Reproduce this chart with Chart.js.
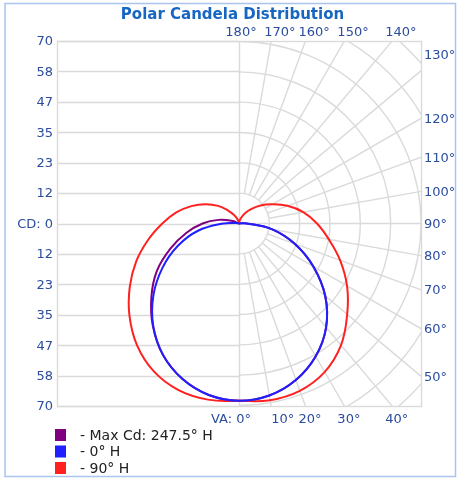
<!DOCTYPE html>
<html>
<head>
<meta charset="utf-8">
<script src="https://cdn.jsdelivr.net/npm/chart.js@4.4.0/dist/chart.umd.min.js"></script>
<style>
  html, body { margin: 0; padding: 0; background: #fff; }
  #wrap { width: 461px; height: 481px; }
</style>
</head>
<body>
<div id="wrap"><canvas id="polar" width="461" height="481"></canvas></div>
<script>
// vertical angle (deg from nadir) of each reading
const verticalAngles = [0, 10, 20, 30, 40, 50, 60, 70, 80, 90, 100, 110, 120, 130, 140, 150, 160, 170, 180];

// candela, left and right half of each plane
const maxCdLeft  = [68, 66.8, 63.5, 58.4, 51.5, 44, 36.5, 28, 20.5, 14, 8, 3, 0, 0, 0, 0, 0, 0, 0];
const maxCdRight = [68, 67, 63.9, 58.9, 52.1, 43.3, 33, 22.8, 13, 3, 0, 0, 0, 0, 0, 0, 0, 0, 0];
const h0Left     = [68, 66.8, 63.5, 58.3, 51.3, 43, 34, 25, 16, 6, 1, 0, 0, 0, 0, 0, 0, 0, 0];
const h0Right    = [68, 67, 63.9, 58.9, 52.1, 43.3, 33, 22.8, 13, 3, 0, 0, 0, 0, 0, 0, 0, 0, 0];
const h90Left    = [68, 68.6, 68, 65.5, 61, 55, 48.5, 42, 35.4, 29.5, 24.5, 19.5, 14.8, 10.5, 6.5, 3.8, 1.8, 0.6, 0];
const h90Right   = [68, 68.8, 68.3, 65.8, 61, 54.3, 48, 41.4, 35.1, 30, 25.1, 19.8, 14.7, 10.8, 7.2, 4.4, 2.2, 0.8, 0];

const seriesLabels = ['- Max Cd: 247.5\u00b0 H', '- 0\u00b0 H', '- 90\u00b0 H'];

// candela axis
const cdTicks = [70, 58.33, 46.67, 35, 23.33, 11.67, 0, -11.67, -23.33, -35, -46.67, -58.33, -70];
const cdTickLabels = ['70', '58', '47', '35', '23', '12', 'CD: 0', '12', '23', '35', '47', '58', '70'];
const ringValues = [11.67, 23.33, 35, 46.67, 58.33, 70, 81.67, 93.33];
const radialAngles = [0, 10, 20, 30, 40, 50, 60, 70, 80, 90, 100, 110, 120, 130, 140, 150, 160, 170, 180];
const labelNudge = {10: 7, 130: -16};

const FONT = "'DejaVu Sans', Verdana, sans-serif";
const TICK_COLOR = '#2b4c9f';
const GRID_COLOR = '#dadada';

function polar(deg, cd, side) {
    const a = deg * Math.PI / 180;
    return {x: side * cd * Math.sin(a), y: -cd * Math.cos(a)};
}

function planePoints(left, right) {
    let pts = [];
    for (let i = verticalAngles.length - 1; i >= 0; i--) {
        pts.push(polar(verticalAngles[i], left[i], -1));
    }
    for (let i = 1; i < verticalAngles.length; i++) {
        pts.push(polar(verticalAngles[i], right[i], 1));
    }
    return pts;
}

function line(ctx, x1, y1, x2, y2) {
    ctx.beginPath();
    ctx.moveTo(x1, y1);
    ctx.lineTo(x2, y2);
    ctx.stroke();
}

const polarGrid = {
    id: 'polarGrid',
    beforeDatasetsDraw(chart) {
        const {ctx, chartArea: a, scales: {x, y}} = chart;
        const cx = x.getPixelForValue(0);
        const cy = y.getPixelForValue(0);
        const unit = x.getPixelForValue(1) - cx;

        ctx.save();
        ctx.strokeStyle = GRID_COLOR;
        ctx.lineWidth = 1.4;
        // candela lines on the left half
        y.ticks.forEach(t => {
            const py = Math.round(y.getPixelForValue(t.value)) + 0.5;
            line(ctx, a.left, py, cx, py);
        });
        line(ctx, Math.round(cx) + 0.5, a.top, Math.round(cx) + 0.5, a.bottom);

        // polar grid on the right half
        ctx.save();
        ctx.beginPath();
        ctx.rect(cx, a.top, a.right - cx, a.bottom - a.top);
        ctx.clip();
        ringValues.forEach(r => {
            ctx.beginPath();
            ctx.arc(cx, cy, r * unit, -Math.PI / 2, Math.PI / 2);
            ctx.stroke();
        });
        radialAngles.forEach(deg => {
            const ang = deg * Math.PI / 180;
            const r0 = (deg % 90 === 0) ? 0 : ringValues[0] * unit;
            const dx = Math.sin(ang), dy = Math.cos(ang);
            line(ctx, cx + r0 * dx, cy + r0 * dy, cx + 400 * dx, cy + 400 * dy);
        });
        ctx.restore();

        ctx.strokeRect(a.left + 0.5, a.top + 0.5, a.width, a.height);
        ctx.restore();
    },
    afterDraw(chart) {
        const {ctx, chartArea: a, scales: {x, y}} = chart;
        const cx = x.getPixelForValue(0);
        const cy = y.getPixelForValue(0);

        ctx.save();
        // outer frame
        ctx.strokeStyle = '#aac4ee';
        ctx.lineWidth = 1.5;
        ctx.strokeRect(5, 3.5, 450.5, 473);

        // title
        ctx.fillStyle = '#1766c2';
        ctx.font = 'bold 15px ' + FONT;
        ctx.textAlign = 'center';
        ctx.textBaseline = 'middle';
        ctx.fillText('Polar Candela Distribution', chart.width / 2 + 2, 15);

        // candela tick labels
        ctx.fillStyle = TICK_COLOR;
        ctx.font = '13px ' + FONT;
        ctx.textAlign = 'right';
        y.ticks.forEach((t, i) => {
            ctx.fillText(cdTickLabels[i], a.left - 4, y.getPixelForValue(t.value) + 1);
        });

        // vertical angle labels where each ray leaves the box
        radialAngles.forEach(deg => {
            const ang = deg * Math.PI / 180;
            const dx = Math.sin(ang), dy = Math.cos(ang);
            const tRight = dx > 1e-6 ? (a.right - cx) / dx : Infinity;
            const tTop = dy < -1e-6 ? (cy - a.top) / -dy : Infinity;
            const tBottom = dy > 1e-6 ? (a.bottom - cy) / dy : Infinity;
            const t = Math.min(tRight, tTop, tBottom);
            const hx = cx + t * dx, hy = cy + t * dy;
            const nudge = labelNudge[deg] || 0;
            const text = deg + '\u00b0';
            if (deg === 0) {
                ctx.textAlign = 'right';
                ctx.fillText('VA: 0\u00b0', cx + 12, a.bottom + 14);
            } else if (deg === 180) {
                ctx.textAlign = 'center';
                ctx.fillText(text, cx + 2, a.top - 8);
            } else if (t === tRight) {
                ctx.textAlign = 'left';
                ctx.fillText(text, a.right + 3, hy + 1 + nudge);
            } else if (t === tTop) {
                ctx.textAlign = 'left';
                ctx.fillText(text, hx - 7 + nudge, a.top - 8);
            } else {
                ctx.textAlign = 'left';
                ctx.fillText(text, hx - 7 + nudge, a.bottom + 14);
            }
        });

        // legend
        ctx.font = '14px ' + FONT;
        ctx.textAlign = 'left';
        chart.data.datasets.forEach((ds, i) => {
            const rowY = a.bottom + 29 + i * 16.5;
            ctx.fillStyle = ds.borderColor;
            ctx.fillRect(55, rowY - 6, 11, 12);
            ctx.fillStyle = '#222';
            ctx.fillText(ds.label, 80, rowY + 1);
        });
        ctx.restore();
    }
};

function drawChart() {
    const ctx = document.getElementById('polar');
    new Chart(ctx, {
        type: 'scatter',
        data: {
            datasets: [
                {label: seriesLabels[0], data: planePoints(maxCdLeft, maxCdRight), borderColor: '#800080', order: 2},
                {label: seriesLabels[1], data: planePoints(h0Left, h0Right), borderColor: '#2020ff', order: 0},
                {label: seriesLabels[2], data: planePoints(h90Left, h90Right), borderColor: '#ff2020', order: 1}
            ].map(ds => Object.assign(ds, {
                showLine: true, pointRadius: 0, borderWidth: 2, tension: 0.4, fill: false
            }))
        },
        options: {
            responsive: false,
            animation: false,
            devicePixelRatio: 1,
            layout: {padding: {left: 57, right: 40, top: 41, bottom: 75}},
            plugins: {legend: {display: false}, tooltip: {enabled: false}},
            scales: {
                x: {type: 'linear', min: -70, max: 70, display: false},
                y: {
                    type: 'linear', min: -70, max: 70, display: false,
                    afterBuildTicks: scale => { scale.ticks = cdTicks.map(v => ({value: v})); }
                }
            }
        },
        plugins: [polarGrid]
    });
}

window.addEventListener('load', evt => drawChart());
</script>
</body>
</html>
